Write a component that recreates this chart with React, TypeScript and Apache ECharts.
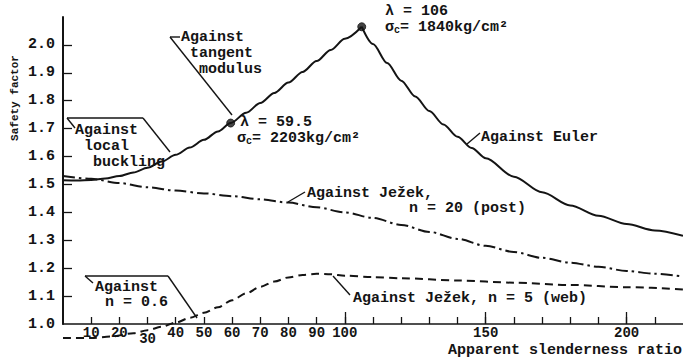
import React, { useEffect, useRef } from 'react';
import * as echarts from 'echarts';

// ---- axis ticks / labels ----
const xTickValues = [10, 20, 30, 40, 50, 60, 70, 80, 90, 100, 110, 120, 130, 140, 150, 160, 170, 180, 190, 200, 210];
const xLabelValues = [10, 20, 30, 40, 50, 60, 70, 80, 90, 100, 150, 200];
const xLongTickValues = [100, 150, 200];
const yLabelValues = [1.0, 1.1, 1.2, 1.3, 1.4, 1.5, 1.6, 1.7, 1.8, 1.9, 2.0];
const yTickValues = [1.1, 1.2, 1.3, 1.4, 1.5, 1.6, 1.7, 1.8, 1.9, 2.0];

// ---- against local buckling / tangent modulus branch ----
const tangentX = [0, 5, 10, 15, 20, 25, 30, 35, 40, 45, 50, 55, 59.5, 65, 70, 75, 80, 85, 90, 95, 100, 106];
const tangentY = [1.515, 1.514, 1.516, 1.521, 1.53, 1.543, 1.56, 1.582, 1.606, 1.632, 1.66, 1.69, 1.72, 1.757, 1.792, 1.828, 1.865, 1.903, 1.942, 1.982, 2.022, 2.065];

// ---- against Euler branch ----
const eulerX = [106, 110, 115, 120, 125, 130, 135, 140, 145, 150, 160, 170, 180, 190, 200, 210, 220];
const eulerY = [2.065, 2.003, 1.935, 1.872, 1.815, 1.763, 1.715, 1.671, 1.631, 1.594, 1.528, 1.472, 1.425, 1.388, 1.358, 1.335, 1.316];

// ---- against Ježek, n = 20 (post) ----
const post20X = [0, 10, 20, 30, 40, 50, 60, 70, 80, 90, 100, 110, 120, 130, 140, 150, 160, 170, 180, 190, 200, 210, 220];
const post20Y = [1.53, 1.52, 1.505, 1.49, 1.478, 1.468, 1.458, 1.447, 1.435, 1.418, 1.4, 1.38, 1.355, 1.33, 1.305, 1.28, 1.258, 1.237, 1.22, 1.205, 1.19, 1.18, 1.17];

// ---- against Ježek, n = 5 (web) ----
const web5X = [0, 10, 17, 25, 30, 35, 40, 45, 50, 55, 60, 65, 70, 75, 80, 85, 90, 95, 100, 110, 120, 140, 160, 180, 200, 220];
const web5Y = [0.95, 0.95, 0.955, 0.967, 0.978, 0.99, 1.005, 1.022, 1.04, 1.06, 1.085, 1.11, 1.133, 1.152, 1.167, 1.176, 1.18, 1.178, 1.173, 1.168, 1.164, 1.156, 1.148, 1.14, 1.132, 1.124];

// ---- critical points ----
const criticalLambda = [59.5, 106];
const criticalFactor = [1.72, 2.065];

const zip = (xs: number[], ys: number[]) => xs.map((x, i) => [x, ys[i]]);

const INK = '#141414';
const FONT = 'Liberation Mono';
const WEIGHT = 'bold';

export default function App() {
  const ref = useRef<HTMLDivElement>(null);

  useEffect(() => {
    if (!ref.current) return;
    const chart = echarts.init(ref.current, undefined, { renderer: 'svg' });

    const txt = (x: number, y: number, text: string, extra: any = {}) => ({
      type: 'text',
      x,
      y,
      style: {
        text,
        fill: INK,
        fontFamily: FONT,
        fontSize: 15,
        fontWeight: WEIGHT,
        verticalAlign: 'middle',
        align: 'left',
        ...extra,
      },
    });
    const seg = (x1: number, y1: number, x2: number, y2: number) => ({
      type: 'line',
      shape: { x1, y1, x2, y2 },
      style: { stroke: INK, lineWidth: 1.4 },
    });
    const sigmaRich = {
      s: { fontFamily: FONT, fontSize: 15, fontWeight: 'bold', fill: INK },
      c: { fontFamily: FONT, fontSize: 10, fontWeight: WEIGHT, fill: INK, padding: [6, 0, 0, 0] },
      t: { fontFamily: FONT, fontSize: 15, fontWeight: WEIGHT, fill: INK },
    };

    chart.setOption({
      animation: false,
      backgroundColor: '#fff',
      grid: { left: 63, right: 0, top: 17, bottom: 33 },
      xAxis: [
        {
          type: 'value',
          min: 0,
          max: 220,
          interval: 10,
          position: 'bottom',
          splitLine: { show: false },
          axisLine: { show: true, lineStyle: { color: INK, width: 1.6 } },
          axisTick: { show: true, inside: true, length: 7, customValues: xTickValues, lineStyle: { color: INK, width: 1.3 } },
          axisLabel: {
            customValues: xLabelValues,
            margin: 2,
            color: INK,
            fontFamily: FONT,
            fontSize: 14,
            fontWeight: WEIGHT,
            formatter: (v: number) => (v === 30 ? '{low|30}' : String(v)),
            rich: { low: { fontFamily: FONT, fontSize: 14, fontWeight: WEIGHT, color: INK, padding: [6, 0, 0, 0] } },
          },
        },
        {
          type: 'value',
          min: 0,
          max: 220,
          interval: 10,
          position: 'bottom',
          splitLine: { show: false },
          axisLine: { show: false },
          axisTick: { show: true, inside: true, length: 12, customValues: xLongTickValues, lineStyle: { color: INK, width: 1.3 } },
          axisLabel: { show: false },
        },
      ],
      yAxis: {
        type: 'value',
        min: 1.0,
        max: 2.1,
        interval: 0.1,
        splitLine: { show: false },
        axisLine: { show: true, lineStyle: { color: INK, width: 2 } },
        axisTick: { show: true, inside: true, length: 9, customValues: yTickValues, lineStyle: { color: INK, width: 1.3 } },
        axisLabel: {
          customValues: yLabelValues,
          margin: 8,
          color: INK,
          fontFamily: FONT,
          fontSize: 15,
          fontWeight: WEIGHT,
          formatter: (v: number) => v.toFixed(1),
        },
      },
      series: [
        {
          type: 'line',
          data: zip(tangentX, tangentY),
          smooth: 0.3,
          smoothMonotone: 'x',
          symbol: 'none',
          clip: false,
          lineStyle: { color: INK, width: 2 },
        },
        {
          type: 'line',
          data: zip(eulerX, eulerY),
          smooth: 0.3,
          smoothMonotone: 'x',
          symbol: 'none',
          clip: false,
          lineStyle: { color: INK, width: 2 },
        },
        {
          type: 'line',
          data: zip(post20X, post20Y),
          smooth: 0.3,
          smoothMonotone: 'x',
          symbol: 'none',
          clip: false,
          lineStyle: { color: INK, width: 2, type: [12, 4, 2.5, 4] },
        },
        {
          type: 'line',
          data: zip(web5X, web5Y),
          smooth: 0.3,
          smoothMonotone: 'x',
          symbol: 'none',
          clip: false,
          lineStyle: { color: INK, width: 2, type: [8, 5] },
        },
        {
          type: 'scatter',
          data: zip(criticalLambda, criticalFactor),
          symbol: 'circle',
          symbolSize: 8,
          itemStyle: { color: INK, borderColor: INK, borderWidth: 1 },
          z: 5,
        },
      ],
      graphic: [
        // axis titles
        {
          type: 'text',
          x: 15,
          y: 98,
          rotation: Math.PI / 2,
          style: { text: 'Safety factor', fill: INK, fontFamily: FONT, fontSize: 11, fontWeight: WEIGHT, align: 'center', verticalAlign: 'middle' },
        },
        txt(682, 350, 'Apparent slenderness ratio', { align: 'right' }),
        // against tangent modulus
        seg(180, 37, 170, 37),
        seg(170, 37, 232, 115),
        txt(181, 53, 'Against\n tangent\n  modulus', { lineHeight: 16 }),
        // against local buckling
        seg(75, 128, 67, 118),
        seg(67, 118, 143, 118),
        seg(143, 118, 170, 152),
        txt(75, 146, 'Against\n local\n  buckling', { lineHeight: 16 }),
        // lambda 59.5
        txt(240, 122, 'λ = 59.5', {}),
        {
          type: 'text',
          x: 237,
          y: 138,
          style: { text: '{s|σ}{c|c}{t|= 2203kg/cm²}', rich: sigmaRich, verticalAlign: 'middle', align: 'left' },
        },
        // lambda 106
        txt(385, 11, 'λ = 106', {}),
        {
          type: 'text',
          x: 385,
          y: 27,
          style: { text: '{s|σ}{c|c}{t|= 1840kg/cm²}', rich: sigmaRich, verticalAlign: 'middle', align: 'left' },
        },
        // against Euler
        seg(467, 144, 480, 133),
        txt(481, 137, 'Against Euler'),
        // Jezek post
        seg(288, 202, 305, 192),
        txt(307, 193, 'Against Ježek,'),
        txt(409, 208, 'n = 20 (post)'),
        // n = 0.6
        seg(93, 283, 85, 276),
        seg(85, 276, 168, 276),
        seg(168, 276, 197, 318),
        txt(95, 287, 'Against'),
        txt(105, 302, 'n = 0.6'),
        // Jezek web
        seg(333, 276, 350, 295),
        txt(353, 298, 'Against Ježek, n = 5 (web)'),
      ],
    });

    return () => chart.dispose();
  }, []);

  return (
    <div
      ref={ref}
      style={{ position: 'fixed', left: 0, top: 0, width: 683, height: 357, background: '#fff' }}
    />
  );
}
